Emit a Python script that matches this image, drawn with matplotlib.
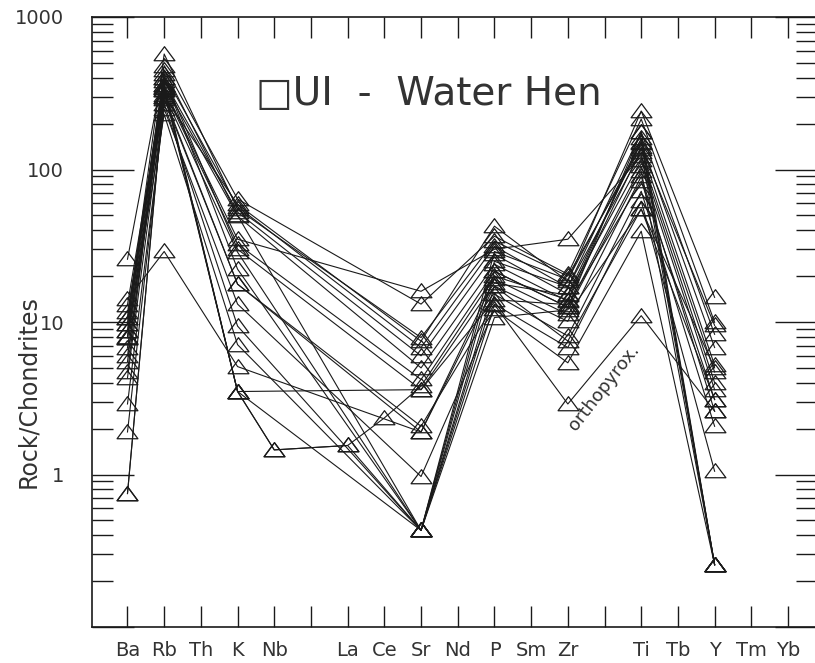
import numpy as np
import matplotlib
matplotlib.use("Agg")
import matplotlib.pyplot as plt
from matplotlib.path import Path

# Element order (positions 5 and 13 are empty gaps)
elements = ["Ba", "Rb", "Th", "K", "Nb", "", "La", "Ce", "Sr", "Nd", "P", "Sm", "Zr", "", "Ti", "Tb", "Y", "Tm", "Yb"]

n = None
ba = [25.8, 14.1, 11.6, 10.7, 9.7, 8.7, 7.9, 6.8, 6.0, 4.7, 4.3, 2.9, 1.9, 0.75, 0.75, 9.7, 8.7, 10.7, 7.9, 13.0, 5.5, 8.0]
rb = [480, 29, 300, 420, 380, 360, 340, 330, 310, 400, 290, 250, 270, 330, 340, 572, 450, 400, 230, 350, 360, 300]
k  = [64, 5.1, 59, 57, 52.5, 49.4, 34.9, 32.4, 28.7, 22.2, 17.7, 13.1, 9.4, 3.5, 3.5, 55, 50, 30, 7.1, 3.5, 3.5, 17.7]
nb = [n, n, n, n, n, n, n, n, n, n, n, n, n, 1.45, 1.45, n, n, n, n, n, n, n]
la = [n, n, n, n, n, n, n, n, n, n, n, n, n, 1.55, 1.55, n, n, n, n, n, n, n]
ce = [n, n, n, n, n, n, n, n, n, n, n, n, n, 2.35, n, n, n, n, n, n, n, n]
sr = [13.1, 1.9, 7.5, 6.8, 6.0, 5.0, 15.9, 4.2, 0.43, 0.43, 2.07, 0.97, 0.43, 3.8, 0.43, 7.9, 0.43, 3.6, 0.43, 3.6, 0.43, 1.9]
p  = [36.5, 19.1, 42.5, 31.4, 27.8, 23.9, 30, 21.5, 17.2, 15.2, 13.1, 12.1, 10.7, 20, 29, 33.9, 25, 18, 13, 14, 21.5, 17.2]
zr = [20.6, 11.2, 18.5, 16.9, 15.2, 13.7, 34.9, 12.5, 10.1, 8.1, 6.8, 5.4, 12.0, 14, 19, 20, 17, 15, 2.9, 13, 12.5, 7.5]
ti = [214, 55, 242, 176, 151, 136, 122, 105, 90, 72, 62, 39.4, 98, 160, 150, 140, 130, 115, 11, 84, 176, 55]
y  = [9.95, 3.1, 14.5, 8.3, 6.8, 5.2, 4.7, 3.6, 2.6, 2.07, 1.05, 0.256, 0.256, 0.256, 0.256, 9.5, 0.256, 4.0, 2.6, 3.1, 0.256, 5.0]

series = {"Ba": ba, "Rb": rb, "K": k, "Nb": nb, "La": la, "Ce": ce, "Sr": sr,
          "P": p, "Zr": zr, "Ti": ti, "Y": y}

title = "\u25a1UI  -  Water Hen"
ylabel = "Rock/Chondrites"
note = "orthopyrox."

ink = "#1a1a1a"
txt = "#333333"
plt.rcParams['font.family'] = ['DejaVu Sans']

fig = plt.figure(figsize=(8.15, 6.63), dpi=100)
ax = fig.add_axes([92/815, 1-627/663, (817-92)/815, (627-17)/663])

tri = Path([(0, 0.75), (-1, -0.6), (1, -0.6), (0, 0.75)],
           [Path.MOVETO, Path.LINETO, Path.LINETO, Path.CLOSEPOLY])

nsamp = len(ba)
for i in range(nsamp):
    xs, vs = [], []
    for pos, el in enumerate(elements):
        if el in series and series[el][i] is not None:
            xs.append(pos)
            vs.append(series[el][i])
    ax.plot(xs, vs, color=ink, lw=0.8, marker=tri, markersize=15,
            markerfacecolor='none', markeredgecolor=ink, markeredgewidth=0.9)

ax.set_yscale('log')
ax.set_ylim(0.1, 1000)
ax.set_xlim(-0.967, 18.79)

ax.set_xticks(range(len(elements)))
ax.set_xticklabels(elements, fontsize=14, color=txt)
ax.set_yticks([0.1, 1, 10, 100, 1000])
ax.set_yticklabels(["", "1", "10", "100", "1000"], fontsize=14, color=txt)
ax.yaxis.set_minor_locator(matplotlib.ticker.LogLocator(base=10, subs=np.arange(2, 10)))
ax.yaxis.set_minor_formatter(matplotlib.ticker.NullFormatter())

ax.tick_params(axis='x', which='both', direction='in', top=True, bottom=True,
               length=15, width=1, pad=10, colors=ink, labelcolor=txt)
ax.tick_params(axis='y', which='major', direction='in', left=True, right=True,
               length=30, width=1, pad=20, colors=ink, labelcolor=txt)
ax.tick_params(axis='y', which='minor', direction='in', left=True, right=True,
               length=15, width=1, colors=ink)
for s in ax.spines.values():
    s.set_color(ink)
    s.set_linewidth(1.2)

ax.set_ylabel(ylabel, fontsize=17, color=txt)
ax.yaxis.set_label_coords(-0.072, 0.386)

ax.text(0.464, 0.874, title, transform=ax.transAxes, fontsize=28,
        ha='center', va='center', color=txt)
ax.text(12.98, 3.73, note, fontsize=13, rotation=52, ha='center', va='center',
        rotation_mode='anchor', color=txt)

fig.savefig("out.png", dpi=100)
